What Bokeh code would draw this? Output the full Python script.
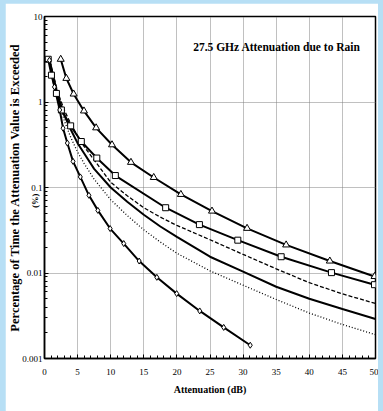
from bokeh.plotting import figure
from bokeh.layouts import column
from bokeh.models import Label, FixedTicker, NumeralTickFormatter
from bokeh.embed import file_html
from bokeh.resources import INLINE

# ---- data (attenuation dB, percentage of time %) ----
tri_x = [2.45, 3.3, 4.4, 5.96, 7.8, 10.2, 13.06, 16.5, 20.6, 25.3, 30.6, 36.5, 43.1, 49.85]
tri_y = [3.16, 1.89, 1.24, 0.786, 0.499, 0.316, 0.197, 0.131, 0.083, 0.053, 0.0333, 0.0213, 0.0138, 0.0091]

sq_x = [0.56, 1.05, 1.8, 2.55, 3.95, 5.56, 7.9, 10.7, 18.3, 23.4, 29.2, 35.75, 43.35, 49.85]
sq_y = [3.16, 2.06, 1.26, 0.807, 0.526, 0.345, 0.221, 0.138, 0.058, 0.0368, 0.0242, 0.0155, 0.0101, 0.0073]

dash_x = [0.8, 2, 3, 4, 5, 6, 7.5, 10, 12.5, 15, 17.5, 20, 25, 30, 35, 40, 45, 50]
dash_y = [3.0, 1.3, 0.8, 0.55, 0.4, 0.3, 0.21, 0.115, 0.08, 0.058, 0.045, 0.036, 0.0245, 0.0165, 0.0112, 0.0077, 0.0057, 0.0044]

solid_x = [0.8, 2, 3, 4, 5, 6, 7.5, 10, 12.5, 15, 17.5, 20, 25, 30, 35, 40, 45, 50]
solid_y = [3.0, 1.2, 0.7, 0.47, 0.33, 0.25, 0.165, 0.1, 0.068, 0.048, 0.035, 0.0265, 0.0155, 0.0104, 0.0069, 0.0050, 0.0038, 0.0029]

dot_x = [0.8, 2, 3, 4, 5, 6, 7.5, 10, 12.5, 15, 17.5, 20, 25, 30, 35, 40, 45, 50]
dot_y = [3.0, 1.1, 0.6, 0.38, 0.26, 0.19, 0.125, 0.072, 0.047, 0.032, 0.023, 0.017, 0.0106, 0.0072, 0.0049, 0.0034, 0.0025, 0.0019]

dia_x = [0.75, 1.5, 2.3, 2.8, 3.45, 4.31, 5.41, 6.71, 8.06, 9.91, 11.97, 14.3, 16.97, 19.97, 23.45, 27.07, 31.08]
dia_y = [3.08, 1.5, 0.807, 0.494, 0.331, 0.202, 0.133, 0.081, 0.054, 0.0331, 0.0221, 0.0138, 0.0089, 0.00574, 0.0036, 0.00231, 0.00143]

x_ticks = [0, 5, 10, 15, 20, 25, 30, 35, 40, 45, 50]
y_ticks = [0.001, 0.01, 0.1, 1, 10]
y_minor = [m * d for d in [0.001, 0.01, 0.1, 1] for m in range(2, 10)]

title_text = "27.5 GHz Attenuation due to Rain"
x_title = "Attenuation (dB)"
y_title = "Percentage of Time the Attenuation Value is Exceeded"
y_unit = "(%)"

SERIF = "Liberation Serif"

p = figure(width=373, height=408, x_range=(0, 50), y_range=(0.001, 10),
           y_axis_type="log", output_backend="svg", toolbar_location=None,
           min_border_left=38, min_border_right=3, min_border_top=13,
           min_border_bottom=52)
p.background_fill_color = "white"
p.border_fill_color = "white"
p.outline_line_color = "black"
p.outline_line_width = 1.5

# axes
p.xaxis.ticker = FixedTicker(ticks=x_ticks, minor_ticks=list(range(0, 51)))
p.yaxis.ticker = FixedTicker(ticks=y_ticks, minor_ticks=y_minor)
p.yaxis.formatter = NumeralTickFormatter(format="0.[000]")
for ax in (p.xaxis[0], p.yaxis[0]):
    ax.axis_line_color = "black"
    ax.axis_line_width = 1.5
    ax.major_tick_in = 4
    ax.major_tick_out = 0
    ax.minor_tick_in = 3
    ax.minor_tick_out = 0
    ax.major_tick_line_color = "black"
    ax.minor_tick_line_color = "black"
    ax.major_label_text_font = SERIF
    ax.major_label_text_font_size = "9px"
    ax.major_label_text_color = "black"
    ax.axis_label_text_font = SERIF
    ax.axis_label_text_font_style = "bold"
    ax.axis_label_text_color = "black"

p.xaxis.major_label_standoff = 10
p.xaxis.axis_label = x_title
p.xaxis.axis_label_text_font_size = "10px"
p.xaxis.axis_label_standoff = 6

p.yaxis.major_label_standoff = 2
p.yaxis.axis_label = y_title
p.yaxis.axis_label_text_font_size = "12.5px"
p.yaxis.axis_label_text_line_height = 1.0
p.yaxis.axis_label_standoff = -3

# "(%)" just under the 0.1 tick label; held in the bottom side panel (which has spare
# room) so that it is not clipped to the frame, positioned in data units
p.add_layout(Label(x=-1.45, y=0.07, text=y_unit,
                   angle=1.5708, angle_units="rad", text_align="center", text_baseline="middle",
                   text_font=SERIF, text_font_style="bold", text_font_size="8.5px",
                   text_color="black"), "below")

# grid
p.xgrid.ticker = FixedTicker(ticks=x_ticks)
p.xgrid.grid_line_color = "#808080"
p.xgrid.grid_line_dash = "1 1"
p.xgrid.grid_line_width = 1
p.ygrid.ticker = FixedTicker(ticks=y_ticks)
p.ygrid.grid_line_color = "#808080"
p.ygrid.grid_line_dash = "1 1"
p.ygrid.grid_line_width = 1

# curves
p.line(dot_x, dot_y, line_color="black", line_width=1.3, line_dash="1 2")
p.line(dash_x, dash_y, line_color="black", line_width=1.3, line_dash="4 2")
p.line(solid_x, solid_y, line_color="black", line_width=2)
p.line(tri_x, tri_y, line_color="black", line_width=2)
p.line(sq_x, sq_y, line_color="black", line_width=2)
p.line(dia_x, dia_y, line_color="black", line_width=2)

p.scatter(tri_x, tri_y, marker="triangle", size=7, fill_color="white", line_color="black", line_width=1)
p.scatter(sq_x, sq_y, marker="square", size=6, fill_color="white", line_color="black", line_width=1)
p.scatter(dia_x, dia_y, marker="diamond", size=6, fill_color="white", line_color="black", line_width=1)

# title inside the plot
p.add_layout(Label(x=35.1, y=4.4, text=title_text, text_align="center", text_baseline="middle",
                   text_font=SERIF, text_font_style="bold", text_font_size="11.5px", text_color="black"))

page = column(p, styles={"background-color": "#b7dff5", "padding-left": "5px",
                         "padding-top": "3px", "padding-right": "5px"})

open("out.html", "w").write(file_html(page, INLINE))
